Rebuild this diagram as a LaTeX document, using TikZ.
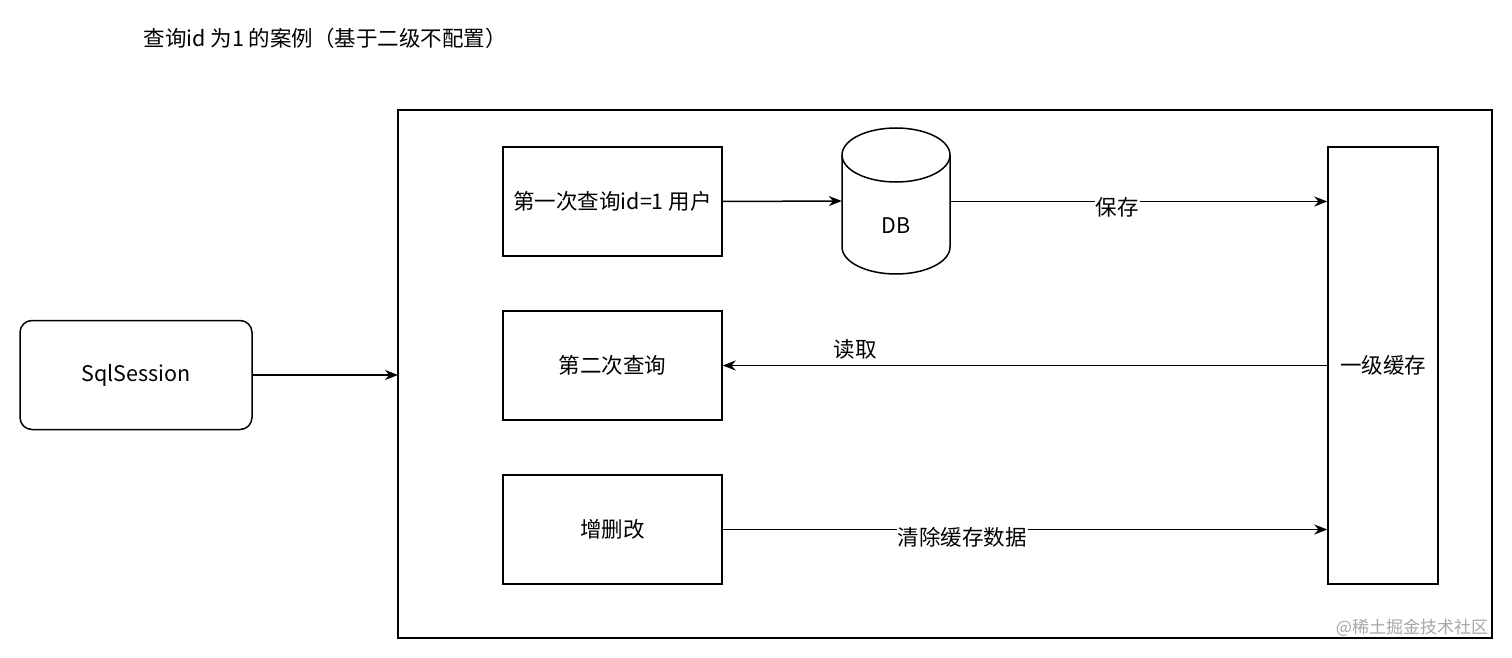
\documentclass[tikz,border=0pt]{standalone}
\usepackage{fontspec}
\setmainfont{Noto Sans CJK SC}
\usetikzlibrary{arrows.meta}
\begin{document}
\begin{tikzpicture}[x=1pt,y=-1pt,
  box/.style={draw,line width=1.5pt,minimum width=219pt,minimum height=109pt,inner sep=0},
  arr/.style={-{Stealth[length=13pt,width=10pt]},line width=1.5pt},
  lbl/.style={inner sep=1pt},
  every node/.style={font=\fontsize{21.5}{25}\selectfont}]
\useasboundingbox (0,0) rectangle (1512,658);
\node[anchor=west] (title) at (140,38) {查询id 为1 的案例（基于二级不配置）};
\node[draw,line width=1.5pt,rounded corners=12pt,minimum width=232pt,minimum height=109pt] (ss) at (136,375) {SqlSession};
\draw[line width=1.5pt] (398,110) rectangle (1492,638);
\coordinate (bigw) at (398,375);
\node[box] (q1) at (612.5,201.5) {第一次查询id=1 用户};
\node[box] (q2) at (612.5,365.5) {第二次查询};
\node[box] (q3) at (612.5,529.5) {增删改};
\node[draw,line width=1.5pt,minimum width=110pt,minimum height=437pt,inner sep=0] (cache) at (1383,365.5) {一级缓存};
% DB cylinder
\draw[line width=1.5pt] (842,155) -- (842,247) arc[start angle=180,end angle=0,x radius=54,y radius=27] -- (950,155);
\draw[line width=1.5pt] (896,155) ellipse[x radius=54,y radius=27];
\node[minimum width=108pt,minimum height=146pt,inner sep=0] (db) at (896,201) {};
\node (dbl) at (896,226) {DB};
\draw[arr] (ss.east) -- (bigw);
\draw[arr] (q1.east) -- (db.west);
\draw[arr] (db.east |- q1.east) -- (cache.west |- q1.east);
\node[lbl,fill=white] at (1117,207) {保存};
\draw[arr] (cache.west |- q2.east) -- (q2.east);
\node[lbl] at (855,349) {读取};
\draw[arr] (q3.east) -- (cache.west |- q3.east);
\node[lbl,fill=white] at (962,537) {清除缓存数据};
\node[text=gray!70,font=\fontsize{17}{19}\selectfont] (wm) at (1412,628) {@稀土掘金技术社区};
\end{tikzpicture}
\end{document}
